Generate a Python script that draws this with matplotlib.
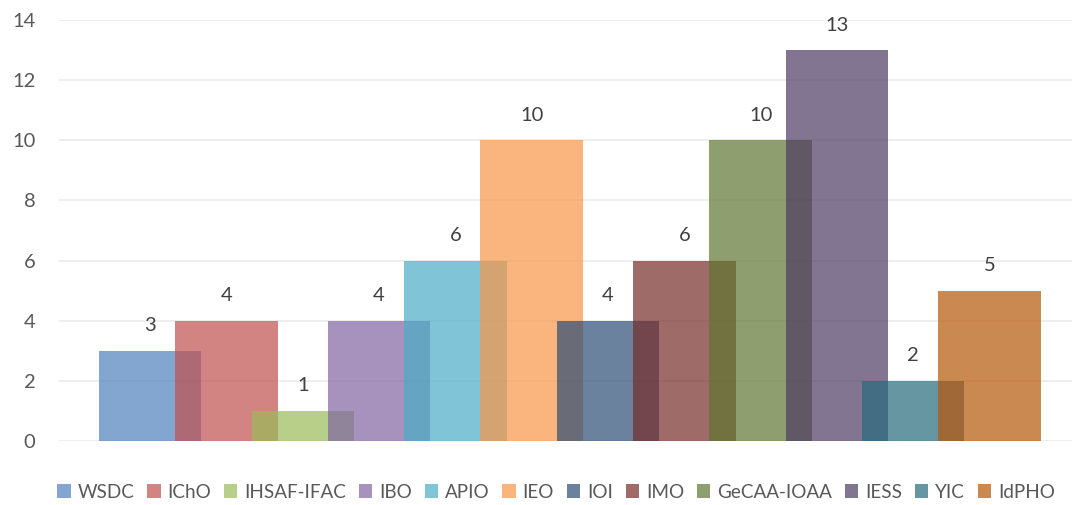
import matplotlib
matplotlib.use("Agg")
import matplotlib.pyplot as plt
from matplotlib.patches import Patch

olympiads = ["WSDC", "IChO", "IHSAF-IFAC", "IBO", "APIO", "IEO",
             "IOI", "IMO", "GeCAA-IOAA", "IESS", "YIC", "IdPHO"]
counts = [3, 4, 1, 4, 6, 10, 4, 6, 10, 13, 2, 5]
colors = ["#4F81BD", "#C0504D", "#9BBB59", "#8064A2", "#4BACC6", "#F79646",
          "#2C4D75", "#772C2A", "#5F7530", "#4D3B62", "#276A7C", "#B65708"]
y_ticks = [0, 2, 4, 6, 8, 10, 12, 14]

plt.rcParams["font.family"] = ["Lato", "DejaVu Sans"]
text_color = "#595959"
alpha = 0.7
bar_width = 1.343
fs = 14.5

W, H = 1072, 505
fig = plt.figure(figsize=(W / 100, H / 100), dpi=100)
ax = fig.add_axes([59 / W, (H - 441) / H, (W - 59) / W, 421 / H])

positions = list(range(len(counts)))
for x, v, c in zip(positions, counts, colors):
    ax.bar(x, v, width=bar_width, color=c, alpha=alpha, linewidth=0, zorder=2)
    ax.annotate(str(v), (x, v), xytext=(0, 18), textcoords="offset points",
                ha="center", va="center", fontsize=fs, color="#404040", zorder=3)

px = 76.3  # pixels per category step
left0 = -bar_width / 2
ax.set_xlim(left0 - 40 / px, left0 + (W - 99) / px)
ax.set_ylim(0, 14)
ax.set_yticks(y_ticks)
ax.set_xticks([])
ax.yaxis.grid(True, color="#EBEBEB", linewidth=1.2, zorder=0)
ax.set_axisbelow(True)
for s in ax.spines.values():
    s.set_visible(False)
ax.tick_params(axis="y", length=0, pad=17, labelsize=fs, labelcolor=text_color)

handles = [Patch(facecolor=c, alpha=alpha, linewidth=0) for c in colors]
fig.legend(handles, olympiads, loc="center", bbox_to_anchor=(556 / W, 1 - 492 / H),
           ncol=len(olympiads), frameon=False, fontsize=13.6, labelcolor=text_color,
           handlelength=0.72, handleheight=0.72, handletextpad=0.35,
           columnspacing=0.68, borderpad=0)

fig.savefig("out.png", dpi=100)
